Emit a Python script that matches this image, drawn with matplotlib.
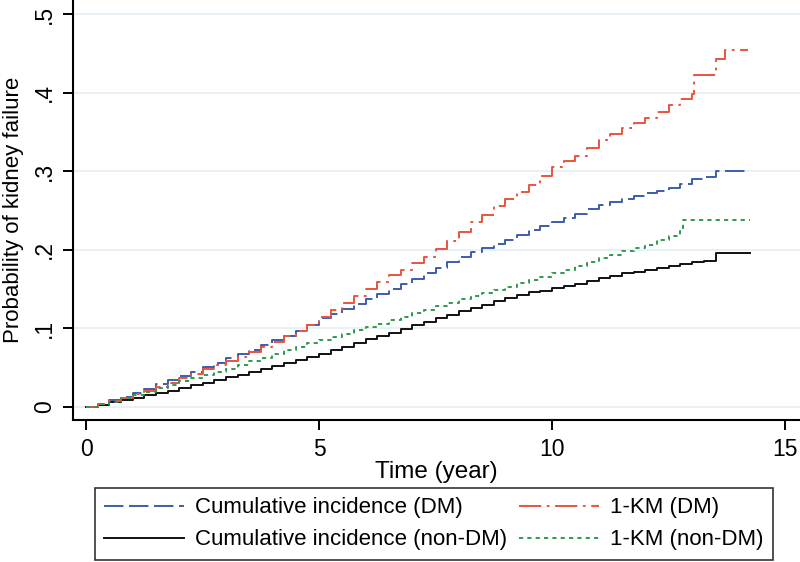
import matplotlib
matplotlib.use("Agg")
import matplotlib.pyplot as plt

plt.rcParams['font.family'] = ['Liberation Sans', 'DejaVu Sans']
plt.rcParams['lines.scale_dashes'] = False

# common time grid (years) for the step curves
t_grid = [0, 0.25, 0.5, 0.75, 1, 1.25, 1.5, 1.75, 2, 2.25, 2.5, 2.75, 3, 3.25,
          3.5, 3.75, 4, 4.25, 4.5, 4.75, 5, 5.25, 5.5, 5.75, 6, 6.25, 6.5, 6.75,
          7, 7.25, 7.5, 7.75, 8, 8.25, 8.5, 8.75, 9, 9.25, 9.5, 9.75, 10, 10.25,
          10.5, 10.75, 11, 11.25, 11.5, 11.75, 12, 12.25, 12.5, 12.75, 13]

# Cumulative incidence (DM)
ci_dm = [0, .004, .009, .013, .018, .023, .029, .034, .040, .045, .051, .056,
         .062, .067, .073, .079, .085, .091, .097, .104, .113, .119, .125, .131,
         .138, .144, .150, .157, .163, .170, .177, .184, .191, .197, .203, .208,
         .213, .219, .225, .230, .236, .241, .246, .252, .257, .261, .265, .269,
         .272, .275, .279, .284, .290]
ci_dm_tail_t = [13.25, 13.52, 14.14]
ci_dm_tail = [.293, .300, .300]

# Cumulative incidence (non-DM)
ci_non = [0, .003, .006, .009, .012, .015, .018, .021, .024, .028, .031, .035,
          .038, .041, .045, .048, .052, .056, .060, .064, .068, .072, .077, .081,
          .086, .090, .094, .099, .104, .108, .113, .117, .122, .126, .130, .135,
          .139, .142, .146, .148, .151, .154, .157, .160, .164, .167, .170, .172,
          .175, .177, .180, .182, .185]
ci_non_tail_t = [13.25, 13.52, 14.25]
ci_non_tail = [.186, .196, .196]

# 1-KM (DM)
km_dm = [0, .004, .008, .012, .016, .021, .026, .031, .037, .042, .048, .053,
         .059, .064, .070, .076, .083, .090, .097, .105, .115, .124, .133, .141,
         .150, .159, .168, .175, .183, .191, .201, .211, .223, .235, .245, .256,
         .265, .274, .283, .294, .305, .313, .320, .330, .340, .348, .355, .362,
         .368, .376, .384, .392, .398]
km_dm_tail_t = [13.05, 13.52, 13.7, 14.2]
km_dm_tail = [.422, .443, .454, .454]

# 1-KM (non-DM), grid up to 12.75
km_non = [0, .004, .007, .011, .015, .019, .024, .028, .033, .037, .041, .045,
          .049, .053, .058, .063, .068, .072, .077, .081, .085, .089, .093, .098,
          .102, .106, .111, .115, .120, .124, .128, .133, .137, .141, .145, .149,
          .153, .158, .162, .166, .170, .175, .180, .185, .190, .194, .198, .202,
          .206, .212, .218, .224]
km_non_tail_t = [12.8, 14.25]
km_non_tail = [.238, .238]

labels = ["Cumulative incidence (DM)", "Cumulative incidence (non-DM)",
          "1-KM (DM)", "1-KM (non-DM)"]
xticks = [0, 5, 10, 15]
yticks = [0, 0.1, 0.2, 0.3, 0.4, 0.5]
yticklabels = ["0", ".1", ".2", ".3", ".4", ".5"]

c_blue = '#3d5dab'
c_black = '#111111'
c_red = '#e8553f'
c_green = '#2f9a4f'

fig = plt.figure(figsize=(8, 5.62), dpi=100)
ax = fig.add_axes([73/800, 1 - 420/562, 1 - 73/800, 420/562])

lw = 1.4
l1, = ax.plot(t_grid + ci_dm_tail_t, ci_dm + ci_dm_tail, drawstyle='steps-post',
              color=c_blue, lw=lw, dashes=(14, 4), label=labels[0])
l2, = ax.plot(t_grid + ci_non_tail_t, ci_non + ci_non_tail, drawstyle='steps-post',
              color=c_black, lw=lw, label=labels[1])
l3, = ax.plot(t_grid + km_dm_tail_t, km_dm + km_dm_tail, drawstyle='steps-post',
              color=c_red, lw=lw, dashes=(16, 4, 2, 4), label=labels[2])
l4, = ax.plot(t_grid[:len(km_non)] + km_non_tail_t, km_non + km_non_tail,
              drawstyle='steps-post', color=c_green, lw=lw, dashes=(3, 3),
              label=labels[3])

ax.set_xlim(-0.28, 15.32)
ax.set_ylim(-0.0165, 0.518)
ax.set_xticks(xticks)
ax.set_yticks(yticks)
ax.set_yticklabels(yticklabels, rotation=90, va='center')
ax.tick_params(axis='both', labelsize=16.5, length=7, width=1.4, direction='out')
ax.tick_params(axis='y', pad=5)
ax.tick_params(axis='x', pad=6)
ax.grid(axis='y', color='#e1edf5', lw=1.2)
ax.set_axisbelow(True)
for s in ['top', 'right']:
    ax.spines[s].set_visible(False)
for s in ['left', 'bottom']:
    ax.spines[s].set_linewidth(1.5)
    ax.spines[s].set_color('black')

ax.set_xlabel("Time (year)", fontsize=17.5, labelpad=0)
ax.set_ylabel("Probability of kidney failure", fontsize=16, labelpad=7)

leg = fig.legend(handles=[l1, l2, l3, l4], labels=labels, ncol=2,
                 loc='upper left', mode='expand',
                 bbox_to_anchor=(95/800, 1 - 560/562, (773 - 95)/800, 72/562),
                 fontsize=16, frameon=True, fancybox=False, handlelength=3.6,
                 handletextpad=0.5, labelspacing=0.5, borderpad=0.42,
                 borderaxespad=0, columnspacing=1.0)
leg.get_frame().set_edgecolor('black')
leg.get_frame().set_linewidth(1.2)

fig.savefig("out.png", dpi=100)
